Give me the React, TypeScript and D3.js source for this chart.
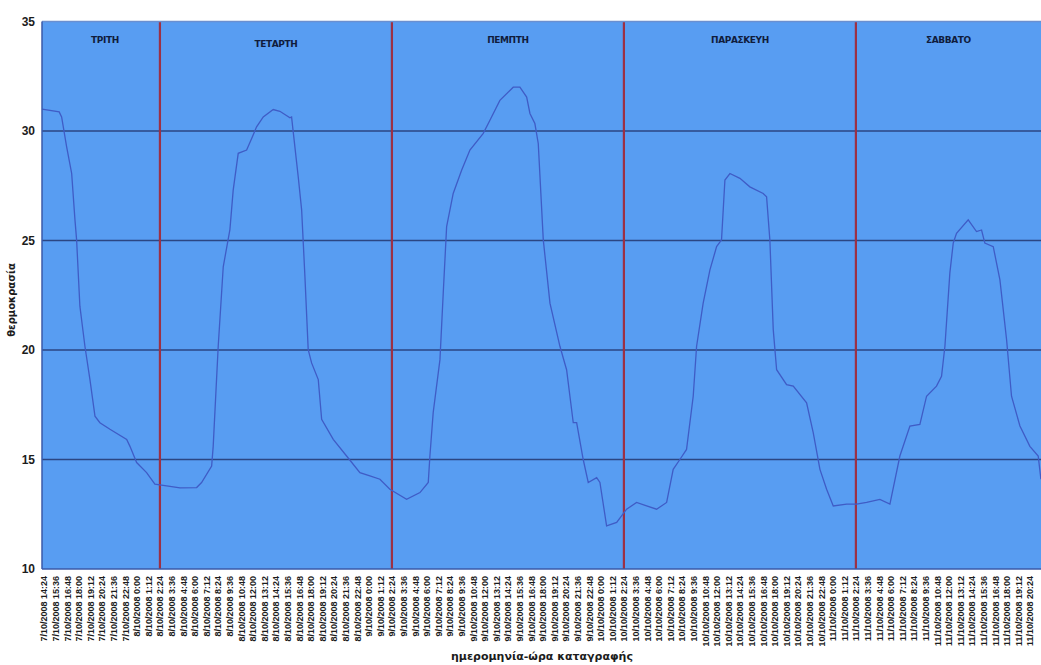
import React from "react";
import * as d3 from "d3";

// hours elapsed since 7/10/2008 14:24
const hours: number[] = [
  -0.2, 1.58, 1.83, 2.35, 2.87, 3.21, 3.38, 3.72, 4.24, 4.76, 5.28, 5.79, 6.83, 8.56, 8.9, 9.59, 10.62, 11.48,
  12.69, 14.07, 15.8, 16.31, 17.35, 17.51, 18.03, 18.55, 19.24, 19.58, 20.1, 20.97, 21.49, 22.0, 22.69, 23.72,
  24.41, 25.45, 25.62, 25.79, 26.31, 26.66, 27.0, 27.34, 27.69, 28.38, 28.73, 29.93, 31.31, 32.69, 33.72, 34.76,
  35.79, 37.52, 38.9, 39.76, 39.93, 40.27, 40.97, 41.31, 41.66, 42.34, 43.21, 44.07, 45.45, 46.14, 47.17, 48.55,
  49.24, 49.94, 50.28, 50.79, 51.14, 51.66, 52.35, 53.38, 54.07, 54.76, 55.11, 55.79, 56.31, 57.18, 57.52, 58.21,
  59.25, 60.28, 61.31, 62.35, 63.38, 64.42, 65.1, 65.79, 66.48, 67.17, 67.52, 68.2, 68.9, 69.59, 70.1, 70.45,
  70.97, 72.0, 73.03, 74.41, 74.76, 75.1, 75.45, 75.8, 76.83, 77.52, 78.9, 79.59, 80.28, 80.97, 81.66, 83.04,
  84.07, 85.11, 86.48, 87.52, 88.55, 89.59, 90.62, 91.31, 92.34, 92.86, 93.21, 93.72, 94.07, 94.41, 95.62, 96.48,
  97.0, 97.34, 98.21, 98.9, 99.59, 100.1, 100.97, 102.0, 102.86, 103.14,
];
const temps: number[] = [
  31.0, 30.87, 30.64, 29.28, 28.06, 25.94, 25.03, 22.0, 20.17, 18.65, 16.98, 16.68, 16.38, 15.92, 15.6, 14.86, 14.4, 13.87,
  13.8, 13.7, 13.72, 13.95, 14.7, 15.6, 20.17, 23.8, 25.5, 27.3, 28.98, 29.13, 29.66, 30.19, 30.64, 30.98,
  30.9, 30.6, 30.64, 29.96, 27.9, 26.4, 23.36, 20.02, 19.41, 18.65, 16.83, 15.92, 15.16, 14.4, 14.25, 14.1,
  13.64, 13.18, 13.49, 13.95, 15.16, 17.14, 19.56, 22.6, 25.63, 27.15, 28.21, 29.13, 29.89, 30.49, 31.4, 32.0,
  32.0, 31.55, 30.8, 30.34, 29.43, 25.03, 22.14, 20.17, 19.1, 16.68, 16.68, 15.0, 13.95, 14.17, 13.95, 11.97,
  12.13, 12.73, 13.04, 12.88, 12.73, 13.04, 14.55, 15.0, 15.46, 17.89, 20.17, 22.14, 23.66, 24.72, 25.03, 27.76,
  28.06, 27.84, 27.45, 27.15, 27.0, 25.03, 20.93, 19.1, 18.42, 18.35, 17.59, 16.22, 14.55, 13.64, 12.88, 12.96,
  12.96, 13.04, 13.18, 12.96, 15.16, 16.53, 16.6, 17.89, 18.35, 18.8, 20.17, 23.51, 24.88, 25.33, 25.94, 25.41,
  25.48, 24.88, 24.72, 23.2, 20.47, 17.89, 16.53, 15.6, 15.16, 14.1,
];

const dayNames: string[] = ["ΤΡΙΤΗ", "ΤΕΤΑΡΤΗ", "ΠΕΜΠΤΗ", "ΠΑΡΑΣΚΕΥΗ", "ΣΑΒΒΑΤΟ"];
const dayBoundaries: number[] = [12, 36, 60, 84]; // hours (2:24 each day)
const yTicks: number[] = [10, 15, 20, 25, 30, 35];
const tickStepHours = 1.2;
const tickCount = 86;
const startDate = new Date(2008, 9, 7, 14, 24);
const yTitle = "θερμοκρασία";
const xTitle = "ημερομηνία-ώρα καταγραφής";

const W = 1041, H = 665;
const L = 42, R = 1041, T = 21.5, B = 569;
const xDomain: [number, number] = [-0.2, 103.15];

export default function App() {
  const x = d3.scaleLinear().domain(xDomain).range([L, R]);
  const y = d3.scaleLinear().domain([10, 35]).range([B, T]);
  const pts = hours.map((h, i) => [h, temps[i]] as [number, number]);
  const line = d3.line<[number, number]>().x(d => x(d[0])).y(d => y(d[1]));
  const fmt = d3.timeFormat("%-d/%m/%Y %-H:%M");
  const ticks = d3.range(tickCount).map(i => i * tickStepHours);
  const segs = [xDomain[0], ...dayBoundaries, xDomain[1]];
  const font = "'Liberation Sans', Arial, sans-serif";
  const fontD = "'DejaVu Sans', Verdana, sans-serif";
  return (
    <svg width={W} height={H} style={{ position: "absolute", left: 0, top: 0, background: "#fff" }}>
      <rect x={L} y={T} width={R - L} height={B - T} fill="#589df2" />
      {yTicks.filter(t => t > 10 && t < 35).map(t => (
        <line key={t} x1={L} x2={R} y1={y(t)} y2={y(t)} stroke="#2b4683" strokeWidth={1.6} />
      ))}
      {dayBoundaries.map(h => (
        <line key={h} x1={x(h)} x2={x(h)} y1={T} y2={B} stroke="#9c3145" strokeWidth={2.2} />
      ))}
      <path d={line(pts) || ""} fill="none" stroke="#3f5cc6" strokeWidth={1.3} />
      <line x1={L} x2={R} y1={T} y2={T} stroke="#6a8fd0" strokeWidth={1.5} />
      <line x1={L} x2={L} y1={T} y2={B} stroke="#3a5aa8" strokeWidth={1.5} />
      <line x1={L} x2={R} y1={B} y2={B} stroke="#3a5aa8" strokeWidth={1.5} />
      {yTicks.map(t => (
        <text key={t} x={35} y={y(t) + 4} textAnchor="end" fontFamily={font} fontWeight="bold" fontSize={12} fill="#1c1c1c">{t}</text>
      ))}
      {dayNames.map((n, i) => (
        <text key={n} x={(x(segs[i]) + x(segs[i + 1])) / 2 + (i === 0 ? 4 : 0)} y={i === 1 ? 47 : 43} textAnchor="middle" fontFamily={fontD} fontWeight="bold" fontSize={9} letterSpacing={-0.4} fill="#101c3c">{n}</text>
      ))}
      {ticks.map(h => {
        const d = new Date(startDate.getTime() + h * 3600000);
        const px = x(h);
        return (
          <text key={h} transform={`translate(${px + 3.5},${576}) rotate(-90)`} textAnchor="end" fontFamily={font} fontWeight="bold" fontSize={9} fill="#1c1c1c">{fmt(d)}</text>
        );
      })}
      <text transform={`translate(15,300) rotate(-90)`} textAnchor="middle" fontFamily={fontD} fontWeight="bold" fontSize={10} fill="#1c1c1c">{yTitle}</text>
      <text x={542} y={660} textAnchor="middle" fontFamily={fontD} fontWeight="bold" fontSize={11} fill="#1c1c1c">{xTitle}</text>
    </svg>
  );
}
